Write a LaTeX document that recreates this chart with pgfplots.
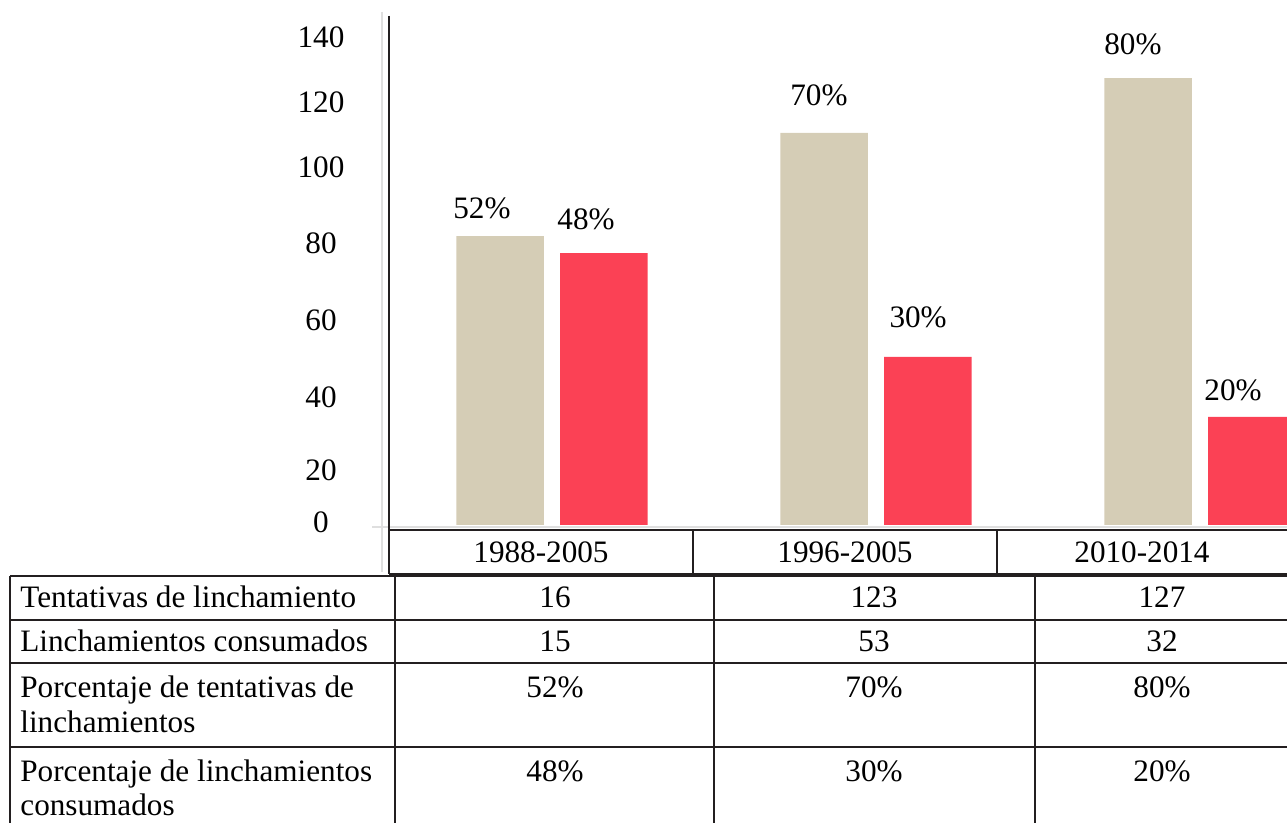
\documentclass[border=0pt]{standalone}
\usepackage{pgfplots}
\pgfplotsset{compat=1.18}
\usepackage{fontspec}
\setmainfont{Liberation Serif}
\definecolor{beige}{HTML}{D5CDB6}
\definecolor{rojo}{HTML}{FB4155}
\definecolor{linea}{HTML}{231F20}
\begin{document}
\fontsize{15.6pt}{18pt}\selectfont
\begin{tikzpicture}
\begin{axis}[
  at={(194.5pt,-262.5pt)}, anchor=south west,
  scale only axis, width=449pt, height=254.5pt,
  xmin=-0.503, xmax=2.2685, ymin=0, ymax=146.94,
  axis line style={draw=none},
  xtick=\empty,
  ytick={0.87,15.9,36.95,59.2,81.4,103.3,122.1,140.7},
  yticklabels={0,20,40,60,80,100,120,140},
  major tick length=0pt,
  yticklabel style={anchor=center, xshift=-34pt},
  clip=true,
]
\addplot[ybar, bar width=0.27, bar shift=-0.16, fill=beige, draw=none]
  coordinates {(0,83.4) (1,113.2) (2,129.0)};
\addplot[ybar, bar width=0.27, bar shift=0.16, fill=rojo, draw=none]
  coordinates {(0,78.5) (1,48.5) (2,31.2)};
\addplot[draw=none, mark=none, nodes near coords, point meta=explicit symbolic,
  every node near coord/.append style={anchor=base, inner sep=0pt, yshift=0pt}]
  coordinates {(-0.216,88.6) [52\%] (0.105,85.2) [48\%] (0.824,121.0) [70\%]
               (1.130,56.9) [30\%] (1.793,135.7) [80\%] (2.102,35.8) [20\%]};
\end{axis}
\begin{scope}[x=0.5pt,y=-0.5pt]
  \draw[gray!25, line width=1pt] (382,12) -- (382,572);
  \draw[gray!25, line width=1pt] (372,527) -- (1287,527);
  \draw[linea, line width=1pt] (389,16) -- (389,574);
  \begin{scope}[draw=linea, line width=1.2pt]
    % header row
    \draw (389,530) -- (1287,530);
    \draw (389,574) -- (1287,574);
    \draw (693,530) -- (693,574);
    \draw (997,530) -- (997,574);
    % table
    \draw (10,576) -- (1287,576);
    \draw (10,620) -- (1287,620);
    \draw (10,663) -- (1287,663);
    \draw (10,747) -- (1287,747);
    \draw (10,576) -- (10,823);
    \draw (395,576) -- (395,823);
    \draw (714,576) -- (714,823);
    \draw (1035,576) -- (1035,823);
  \end{scope}
  \node[anchor=base, inner sep=0pt] at (541,563) {1988-2005};
  \node[anchor=base, inner sep=0pt] at (845,563) {1996-2005};
  \node[anchor=base, inner sep=0pt] at (1142,563) {2010-2014};
  \node[anchor=base west, inner sep=0pt] at (20,608) {Tentativas de linchamiento};
  \node[anchor=base west, inner sep=0pt] at (20,652) {Linchamientos consumados};
  \node[anchor=base west, inner sep=0pt] at (20,698) {Porcentaje de tentativas de};
  \node[anchor=base west, inner sep=0pt] at (20,733) {linchamientos};
  \node[anchor=base west, inner sep=0pt] at (20,782) {Porcentaje de linchamientos};
  \node[anchor=base west, inner sep=0pt] at (20,816) {consumados};
  \node[anchor=base, inner sep=0pt] at (555,608) {16};
  \node[anchor=base, inner sep=0pt] at (874,608) {123};
  \node[anchor=base, inner sep=0pt] at (1162,608) {127};
  \node[anchor=base, inner sep=0pt] at (555,652) {15};
  \node[anchor=base, inner sep=0pt] at (874,652) {53};
  \node[anchor=base, inner sep=0pt] at (1162,652) {32};
  \node[anchor=base, inner sep=0pt] at (555,698) {52\%};
  \node[anchor=base, inner sep=0pt] at (874,698) {70\%};
  \node[anchor=base, inner sep=0pt] at (1162,698) {80\%};
  \node[anchor=base, inner sep=0pt] at (555,782) {48\%};
  \node[anchor=base, inner sep=0pt] at (874,782) {30\%};
  \node[anchor=base, inner sep=0pt] at (1162,782) {20\%};
\end{scope}
\pgfresetboundingbox
\path[use as bounding box] (0pt,0pt) rectangle (643.5pt,-411.5pt);
\end{tikzpicture}
\end{document}
